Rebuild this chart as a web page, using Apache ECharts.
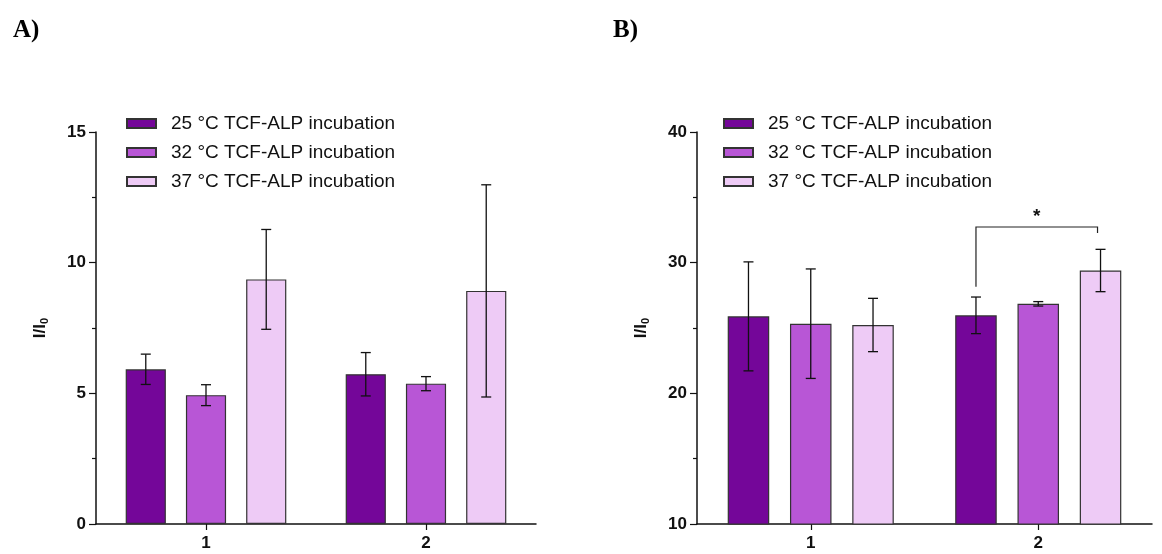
<!DOCTYPE html>
<html>
<head>
<meta charset="utf-8">
<script src="https://cdn.jsdelivr.net/npm/echarts@6/dist/echarts.min.js"></script>
<style>
  html, body { margin: 0; padding: 0; background: #ffffff; }
  #chart { width: 1162px; height: 554px; }
</style>
</head>
<body>
<div id="chart"></div>
<script>
// Categories on the x axis
const categories = ['1', '2'];
const seriesNames = ['25 °C TCF-ALP incubation', '32 °C TCF-ALP incubation', '37 °C TCF-ALP incubation'];
const seriesColors = ['#740699', '#b856d6', '#eecbf6'];

// Panel A: mean I/I0 and standard deviation per incubation temperature
const meanA25 = [5.92, 5.73];
const meanA32 = [4.93, 5.37];
const meanA37 = [9.36, 8.92];
const sdA25 = [0.58, 0.83];
const sdA32 = [0.40, 0.27];
const sdA37 = [1.91, 4.06];

// Panel B: mean I/I0 and standard deviation per incubation temperature
const meanB25 = [25.89, 25.97];
const meanB32 = [25.33, 26.85];
const meanB37 = [25.23, 29.40];
const sdB25 = [4.17, 1.40];
const sdB32 = [4.19, 0.17];
const sdB37 = [2.04, 1.62];

// Axis ticks
const ticksA = [0, 5, 10, 15];
const ticksB = [10, 20, 30, 40];

// Significance bracket in panel B: category index, first/last bar, left foot, top, right foot
const bracketB = [[1, 0, 2, 28.15, 32.73, 32.27]];
const bracketLabel = '*';

const FONT = '"Liberation Sans", Arial, sans-serif';
const CAT_GAP = 0.27, BAR_GAP = 0.5;

// horizontal offset of bar i (0..2) inside a category of pixel width w
function barOffset(i, w) {
  const bw = w * (1 - CAT_GAP) / (3 + 2 * BAR_GAP);
  return (i - 1) * bw * (1 + BAR_GAP);
}

function errorRender(idx) {
  return function (params, api) {
    const c = api.value(0), m = api.value(1), sd = api.value(2);
    const w = api.size([1, 0])[0];
    const dx = barOffset(idx, w);
    const top = api.coord([c, m + sd]);
    const bot = api.coord([c, m - sd]);
    const x = top[0] + dx;
    const cap = 5;
    const style = { stroke: '#111', lineWidth: 1.3 };
    return {
      type: 'group',
      children: [
        { type: 'line', shape: { x1: x, y1: top[1], x2: x, y2: bot[1] }, style },
        { type: 'line', shape: { x1: x - cap, y1: top[1], x2: x + cap, y2: top[1] }, style },
        { type: 'line', shape: { x1: x - cap, y1: bot[1], x2: x + cap, y2: bot[1] }, style }
      ]
    };
  };
}

function bracketRender(params, api) {
  const c = api.value(0), i0 = api.value(1), i1 = api.value(2);
  const yl = api.value(3), yt = api.value(4), yr = api.value(5);
  const w = api.size([1, 0])[0];
  const pl = api.coord([c, yl]);
  const pt = api.coord([c, yt]);
  const pr = api.coord([c, yr]);
  const xl = pl[0] + barOffset(i0, w);
  const xr = pl[0] + barOffset(i1, w) - 3;
  const style = { stroke: '#222', lineWidth: 1.2, fill: null };
  return {
    type: 'group',
    children: [
      { type: 'polyline', shape: { points: [[xl, pl[1]], [xl, pt[1]], [xr, pt[1]], [xr, pr[1]]] }, style },
      { type: 'text', style: { text: bracketLabel, x: (xl + xr) / 2, y: pt[1] - 1, align: 'center', verticalAlign: 'bottom',
        font: 'bold 19px ' + FONT, fill: '#111' } }
    ]
  };
}

function yAxisFor(gridIndex, ticks) {
  return {
    type: 'value', gridIndex,
    min: ticks[0], max: ticks[ticks.length - 1], interval: ticks[1] - ticks[0],
    name: '{n|I/I}{s|0}', nameLocation: 'middle', nameGap: 46, nameRotate: 90,
    nameTextStyle: { rich: {
      n: { fontFamily: FONT, fontWeight: 'bold', fontSize: 17, color: '#111' },
      s: { fontFamily: FONT, fontWeight: 'bold', fontSize: 11, color: '#111', verticalAlign: 'bottom', padding: [9, 0, 0, 0] }
    } },
    axisLine: { show: true, lineStyle: { color: '#111', width: 1.5 } },
    axisTick: { show: true, length: 7, lineStyle: { color: '#111', width: 1.2 } },
    minorTick: { show: true, splitNumber: 2, length: 4, lineStyle: { color: '#111', width: 1.2 } },
    splitLine: { show: false },
    axisLabel: { margin: 10, fontFamily: FONT, fontWeight: 'bold', fontSize: 17, color: '#111' }
  };
}

function xAxisFor(gridIndex) {
  return {
    type: 'category', gridIndex, data: categories,
    axisLine: { lineStyle: { color: '#111', width: 1.5 } },
    axisTick: { show: true, alignWithLabel: true, length: 6, lineStyle: { color: '#111', width: 1.2 } },
    axisLabel: { margin: 11, fontFamily: FONT, fontWeight: 'bold', fontSize: 17, color: '#111' }
  };
}

function barSeries(idx, gridIndex, values) {
  return {
    type: 'bar', name: seriesNames[idx], xAxisIndex: gridIndex, yAxisIndex: gridIndex,
    data: values, barCategoryGap: '27%', barGap: '50%',
    itemStyle: { color: seriesColors[idx], borderColor: '#333', borderWidth: 1.2 },
    emphasis: { disabled: true }
  };
}

function errSeries(idx, gridIndex, means, sds) {
  return {
    type: 'custom', xAxisIndex: gridIndex, yAxisIndex: gridIndex, z: 5,
    renderItem: errorRender(idx),
    data: means.map((m, c) => [c, m, sds[c]]),
    silent: true
  };
}

function legendFor(left) {
  return {
    data: seriesNames.map(n => ({ name: n, icon: 'rect' })), orient: 'vertical', left, top: 109,
    itemWidth: 29, itemHeight: 9, itemGap: 10,
    textStyle: { fontFamily: FONT, fontSize: 19, color: '#111', padding: [0, 0, 0, 10] },
    selectedMode: false
  };
}

const chart = echarts.init(document.getElementById('chart'), null, { renderer: 'canvas' });
chart.setOption({
  animation: false,
  backgroundColor: '#ffffff',
  title: [
    { text: 'A)', left: 8, top: 13, textStyle: { fontFamily: '"Liberation Serif", "Times New Roman", serif', fontWeight: 'bold', fontSize: 25, color: '#000' } },
    { text: 'B)', left: 608, top: 13, textStyle: { fontFamily: '"Liberation Serif", "Times New Roman", serif', fontWeight: 'bold', fontSize: 25, color: '#000' } }
  ],
  legend: [legendFor(121), legendFor(718)],
  grid: [
    { left: 96, top: 132, width: 440, height: 392 },
    { left: 697, top: 132, width: 455, height: 392 }
  ],
  xAxis: [xAxisFor(0), xAxisFor(1)],
  yAxis: [yAxisFor(0, ticksA), yAxisFor(1, ticksB)],
  series: [
    barSeries(0, 0, meanA25), barSeries(1, 0, meanA32), barSeries(2, 0, meanA37),
    errSeries(0, 0, meanA25, sdA25), errSeries(1, 0, meanA32, sdA32), errSeries(2, 0, meanA37, sdA37),
    barSeries(0, 1, meanB25), barSeries(1, 1, meanB32), barSeries(2, 1, meanB37),
    errSeries(0, 1, meanB25, sdB25), errSeries(1, 1, meanB32, sdB32), errSeries(2, 1, meanB37, sdB37),
    { type: 'custom', xAxisIndex: 1, yAxisIndex: 1, z: 6, renderItem: bracketRender, data: bracketB, silent: true }
  ]
});
</script>
</body>
</html>
